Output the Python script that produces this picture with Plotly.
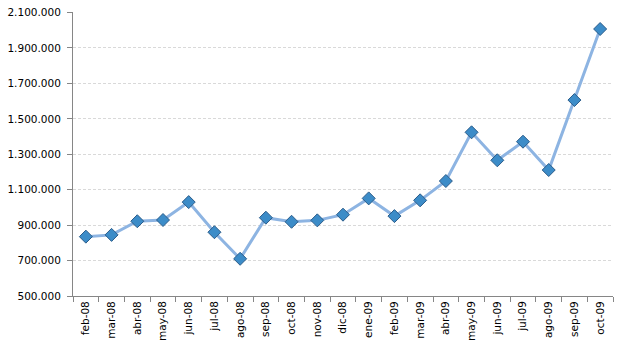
import plotly.graph_objects as go

months = ["feb-08", "mar-08", "abr-08", "may-08", "jun-08", "jul-08", "ago-08",
          "sep-08", "oct-08", "nov-08", "dic-08", "ene-09", "feb-09", "mar-09",
          "abr-09", "may-09", "jun-09", "jul-09", "ago-09", "sep-09", "oct-09"]
values = [835000, 845000, 922000, 929000, 1030000, 860000, 710000,
          942000, 919000, 927000, 959000, 1051000, 951000, 1040000,
          1149000, 1424000, 1266000, 1371000, 1211000, 1606000, 2007000]

ytick_vals = [500000, 700000, 900000, 1100000, 1300000, 1500000, 1700000, 1900000, 2100000]

fig = go.Figure()
fig.add_trace(go.Scatter(
    x=months, y=values, mode="lines+markers",
    line=dict(color="#8DB4E2", width=3),
    marker=dict(symbol="diamond", size=10, color="#3C8CC8",
                line=dict(color="#2B5C8A", width=1)),
    showlegend=False,
))

fig.update_layout(
    width=620, height=355,
    margin=dict(l=73, r=7, t=12, b=59, autoexpand=False),
    paper_bgcolor="white", plot_bgcolor="white",
    separators=",.",
    font=dict(family="DejaVu Sans", size=10.5, color="black"),
    xaxis=dict(
        type="category", tickangle=-90, showgrid=False, automargin=False,
        showline=True, linecolor="#868686", linewidth=1,
        ticks="outside", ticklen=5, tickcolor="#868686", tickson="boundaries",
        range=[-0.5, len(months) - 0.5],
    ),
    yaxis=dict(
        range=[500000, 2103000], tickvals=ytick_vals, tickformat=",d",
        automargin=False, ticklabeloverflow="allow", ticklabelstandoff=4,
        showgrid=True, gridcolor="#D9D9D9", griddash="3px,2px", gridwidth=1,
        showline=True, linecolor="#868686", linewidth=1,
        ticks="outside", ticklen=5, tickcolor="#868686",
        zeroline=False,
    ),
)

fig.write_html("out.html", config={"displayModeBar": False},
               post_script="document.body.style.margin='0';")
